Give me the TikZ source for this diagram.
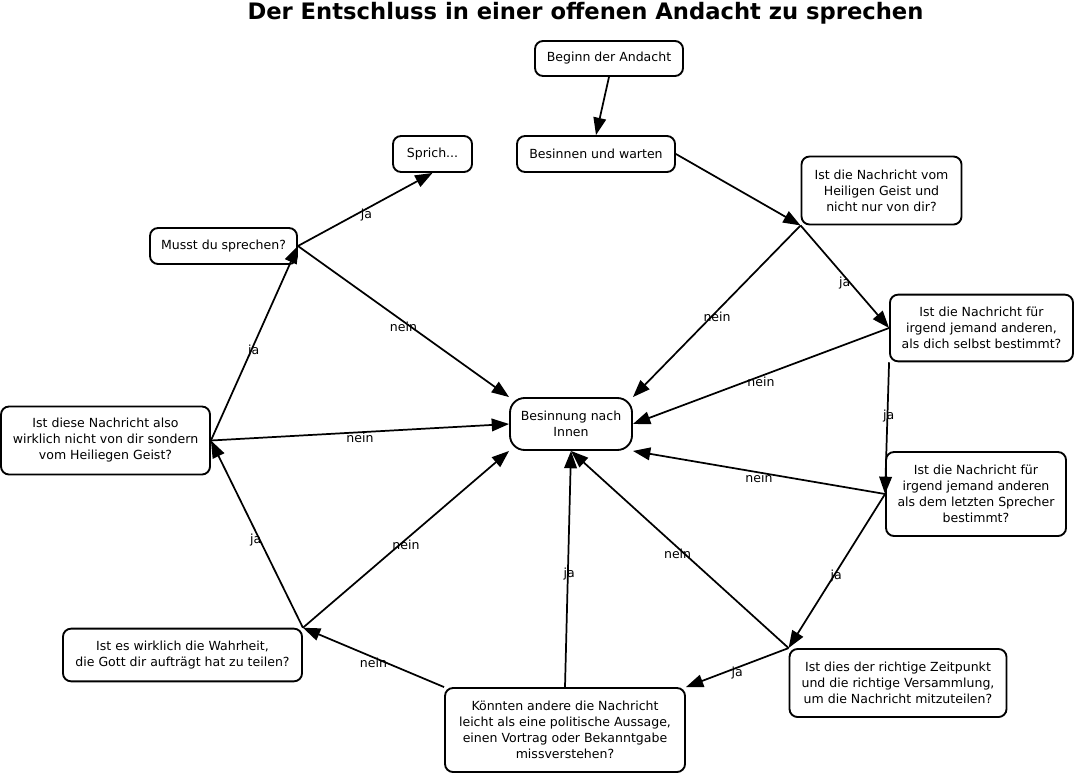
\documentclass[tikz,border=0pt]{standalone}
\usepackage{fontspec}
\setmainfont{DejaVu Sans}
\usetikzlibrary{arrows.meta}
\tikzset{
  box/.style={draw, line width=1.4pt, rounded corners=6pt, align=center, inner sep=0pt,
    font=\fontsize{9.4}{12}\selectfont},
  conn/.style={line width=1.3pt, -{Triangle[length=13pt,width=9.5pt]}},
  lab/.style={font=\fontsize{9.4}{12}\selectfont, inner sep=0pt},
}
\begin{document}
\begin{tikzpicture}[x=0.75pt,y=-0.75pt]
\useasboundingbox (0,0) rectangle (1075,774);
\node[font=\fontsize{17}{20}\selectfont\bfseries] (title) at (585.5,13) {Der Entschluss in einer offenen Andacht zu sprechen};

\node[box, minimum width=111pt, minimum height=26.25pt] (beg) at (609,58.5) {Beginn der Andacht};
\node[box, minimum width=118.5pt, minimum height=27pt] (bes) at (596,154) {Besinnen und warten};
\node[box, minimum width=59.25pt, minimum height=27pt] (spr) at (432.5,154) {Sprich...};
\node[box, minimum width=110.25pt, minimum height=27pt] (mus) at (223.5,246) {Musst du sprechen?};
\node[box, minimum width=120pt, minimum height=51pt] (vom) at (881.5,190.5) {Ist die Nachricht vom\\Heiligen Geist und\\nicht nur von dir?};
\node[box, minimum width=137.25pt, minimum height=50pt] (irg) at (981.5,328) {Ist die Nachricht für\\irgend jemand anderen,\\als dich selbst bestimmt?};
\node[box, rounded corners=11pt, minimum width=91.5pt, minimum height=39pt] (inn) at (571,424) {Besinnung nach\\Innen};
\node[box, minimum width=156.75pt, minimum height=51pt] (als) at (105.5,440.5) {Ist diese Nachricht also\\wirklich nicht von dir sondern\\vom Heiliegen Geist?};
\node[box, minimum width=135pt, minimum height=63pt] (let) at (976,494) {Ist die Nachricht für\\irgend jemand anderen\\als dem letzten Sprecher\\bestimmt?};
\node[box, minimum width=179.25pt, minimum height=39.5pt] (wah) at (182.5,655) {Ist es wirklich die Wahrheit,\\die Gott dir aufträgt hat zu teilen?};
\node[box, minimum width=162.75pt, minimum height=51pt] (zei) at (898,683) {Ist dies der richtige Zeitpunkt\\und die richtige Versammlung,\\um die Nachricht mitzuteilen?};
\node[box, minimum width=180pt, minimum height=63pt] (kon) at (565,730) {Könnten andere die Nachricht\\leicht als eine politische Aussage,\\einen Vortrag oder Bekanntgabe\\missverstehen?};

\draw[conn] (beg.south) -- (bes.north);
\draw[conn] (bes.east) -- (vom.south west);
\draw[conn] (vom.south west) -- node[lab, pos=.53, xshift=4pt]{nein} (inn.north east);
\draw[conn] (vom.south west) -- node[lab, pos=.56, xshift=-4pt]{ja} (irg.west);
\draw[conn] (irg.west) -- node[lab, pos=.5, yshift=-4pt]{nein} (inn.east);
\draw[conn] (irg.south west) -- node[lab, pos=.41, xshift=1pt]{ja} (let.west);
\draw[conn] (let.west) -- node[lab, pos=.5, yshift=-4pt]{nein} (inn.south east);
\draw[conn] (let.west) -- node[lab, pos=.535, xshift=2pt]{ja} (zei.north west);
\draw[conn] (zei.north west) -- node[lab, pos=.5, yshift=-4pt]{ja} (kon.north east);
\draw[conn] (zei.north west) -- node[lab, pos=.51, yshift=-5pt]{nein} (inn.south);
\draw[conn] (kon.north) -- node[lab, pos=.48, xshift=1pt]{ja} (inn.south);
\draw[conn] (kon.north west) -- node[lab, pos=.5, yshift=-4pt]{nein} (wah.north east);
\draw[conn] (wah.north east) -- node[lab, pos=.5, yshift=-4pt]{nein} (inn.south west);
\draw[conn] (wah.north east) -- node[lab, pos=.47, xshift=-3pt]{ja} (als.east);
\draw[conn] (als.east) -- node[lab, pos=.5, yshift=-4pt]{nein} (inn.west);
\draw[conn] (als.east) -- node[lab, pos=.46, xshift=2pt]{ja} (mus.east);
\draw[conn] (mus.east) -- node[lab, pos=.51, yshift=-5pt]{ja} (spr.south);
\draw[conn] (mus.east) -- node[lab, pos=.5, yshift=-4pt]{nein} (inn.north west);
\end{tikzpicture}
\end{document}
